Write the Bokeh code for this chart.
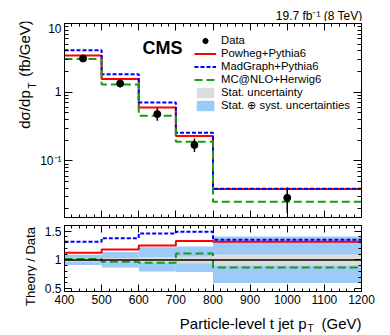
import math
from bokeh.plotting import figure
from bokeh.layouts import column, row
from bokeh.models import (Range1d, FixedTicker, SingleIntervalTicker, LinearAxis, LogAxis,
                          Legend, LegendItem, Label, Span, CustomJSTickFormatter)
from bokeh.embed import file_html
from bokeh.resources import INLINE

# ---------------- data ----------------
bin_edges = [400, 500, 600, 700, 800, 1200]
bin_centers = [450, 550, 650, 750, 1000]
data_xsec = [3.10, 1.34, 0.48, 0.171, 0.029]
powheg_xsec = [3.43, 1.56, 0.60, 0.230, 0.0389]
madgraph_xsec = [4.08, 1.83, 0.71, 0.257, 0.0393]
mcatnlo_xsec = [3.05, 1.29, 0.455, 0.190, 0.0255]
stat_rel = [0.03, 0.035, 0.05, 0.06, 0.095]
total_rel_up = [0.09, 0.14, 0.22, 0.235, 0.41]
total_rel_dn = [0.09, 0.13, 0.20, 0.21, 0.40]
powheg_ratio = [1.126, 1.18, 1.25, 1.33, 1.315]
madgraph_ratio = [1.315, 1.38, 1.46, 1.49, 1.35]
mcatnlo_ratio = [1.017, 0.97, 0.95, 1.11, 0.87]

main_major_ticks = [0.1, 1, 10]
main_minor_ticks = [0.02, 0.03, 0.04, 0.05, 0.06, 0.07, 0.08, 0.09,
                    0.2, 0.3, 0.4, 0.5, 0.6, 0.7, 0.8, 0.9,
                    2, 3, 4, 5, 6, 7, 8, 9]
main_tick_labels = {0.1: "10\u207b\u00b9", 1: "1", 10: "10"}
ratio_major_ticks = [0.5, 1, 1.5]
ratio_minor_ticks = [0.6, 0.7, 0.8, 0.9, 1.1, 1.2, 1.3, 1.4, 1.6]
ratio_tick_labels = {0.5: "0.5", 1: "1", 1.5: "1.5"}

FONT = "Liberation Sans"
RED = "#ff0000"
BLUE = "#0000ff"
GREEN = "#1a9a1a"
BAND_TOT = "#9ccbf7"
BAND_STAT = "#dddddd"

LEFT_W = 37          # width of the strip that carries the rotated y titles
PANEL_W = 390 - LEFT_W


def style_axis(ax, show_labels=True, major_in=8, minor_in=4):
    ax.major_tick_in = major_in
    ax.major_tick_out = 0
    ax.minor_tick_in = minor_in
    ax.minor_tick_out = 0
    ax.axis_line_color = "black"
    ax.major_tick_line_color = "black"
    ax.minor_tick_line_color = "black"
    ax.major_label_text_font = FONT
    ax.major_label_text_color = "black"
    if show_labels:
        ax.major_label_text_font_size = "12px"
        ax.major_label_standoff = 3
    else:
        ax.formatter = CustomJSTickFormatter(code="return ''")
        ax.major_label_text_font_size = "1px"
        ax.major_label_standoff = 0


def step_vals(v):
    return list(v) + [v[-1]]


def text_fig(w, h):
    f = figure(width=w, height=h, x_range=Range1d(0, 1), y_range=Range1d(0, 1),
               x_axis_location=None, y_axis_location=None, toolbar_location=None,
               output_backend="svg", min_border=0)
    f.xgrid.visible = False
    f.ygrid.visible = False
    f.outline_line_color = None
    f.background_fill_color = "white"
    f.border_fill_color = "white"
    return f


def txt(fig, x, y, text, size, align="left", baseline="alphabetic", angle=0.0, style="normal"):
    fig.add_layout(Label(x=x, y=y, x_units="screen", y_units="screen", text=text,
                         angle=angle, text_align=align, text_baseline=baseline,
                         text_font=FONT, text_font_size=size, text_font_style=style,
                         text_color="black"))


# ---------------- top strip ----------------
ptop = text_fig(390, 21)
txt(ptop, 362, 6, "19.7 fb\u207b\u00b9 (8 TeV)", "12px", align="right")

# ---------------- main panel ----------------
p1 = figure(width=PANEL_W, height=200, x_range=Range1d(400, 1200), y_range=Range1d(0.015, 10),
            y_axis_type="log", output_backend="svg", toolbar_location=None,
            min_border_left=62 - LEFT_W, min_border_right=29, min_border_top=2, min_border_bottom=4)
p1.grid.visible = False
p1.outline_line_color = "black"
p1.background_fill_color = "white"
p1.border_fill_color = "white"

p1.xaxis.ticker = SingleIntervalTicker(interval=100, num_minor_ticks=5)
style_axis(p1.xaxis[0], show_labels=False, major_in=7, minor_in=3)
p1.yaxis.ticker = FixedTicker(ticks=main_major_ticks, minor_ticks=main_minor_ticks)
p1.yaxis.major_label_overrides = main_tick_labels
style_axis(p1.yaxis[0], show_labels=True)

ax_r = LogAxis(ticker=FixedTicker(ticks=main_major_ticks, minor_ticks=main_minor_ticks))
style_axis(ax_r, show_labels=False)
p1.add_layout(ax_r, "right")
ax_t = LinearAxis(ticker=SingleIntervalTicker(interval=100, num_minor_ticks=5))
style_axis(ax_t, show_labels=False, major_in=7, minor_in=3)
p1.add_layout(ax_t, "above")

r_pow = p1.step(bin_edges, step_vals(powheg_xsec), mode="after", line_color=RED, line_width=2)
r_mg = p1.step(bin_edges, step_vals(madgraph_xsec), mode="after", line_color=BLUE, line_width=2,
               line_dash="4 2")
r_mc = p1.step(bin_edges, step_vals(mcatnlo_xsec), mode="after", line_color=GREEN, line_width=2,
               line_dash="8 4")

tot_lo = [d * (1 - e) for d, e in zip(data_xsec, total_rel_dn)]
tot_hi = [d * (1 + e) for d, e in zip(data_xsec, total_rel_up)]
st_lo = [d * (1 - e) for d, e in zip(data_xsec, stat_rel)]
st_hi = [d * (1 + e) for d, e in zip(data_xsec, stat_rel)]
p1.segment(x0=bin_centers, y0=tot_lo, x1=bin_centers, y1=tot_hi, line_color="black", line_width=1.5)
p1.segment(x0=bin_centers, y0=st_lo, x1=bin_centers, y1=st_hi, line_color="black", line_width=3.5)
r_data = p1.scatter(bin_centers, data_xsec, size=7, color="black")

# legend-only copies of the ratio-panel bands (hidden in this panel)
r_stat_leg = p1.quad(left=bin_edges[:-1], right=bin_edges[1:],
                     bottom=[1 - e for e in stat_rel], top=[1 + e for e in stat_rel],
                     fill_color=BAND_STAT, line_color=None, visible=False)
r_tot_leg = p1.quad(left=bin_edges[:-1], right=bin_edges[1:],
                    bottom=[1 - e for e in total_rel_dn], top=[1 + e for e in total_rel_up],
                    fill_color=BAND_TOT, line_color=None, visible=False)

legend = Legend(items=[
    LegendItem(label="Data", renderers=[r_data]),
    LegendItem(label="Powheg+Pythia6", renderers=[r_pow]),
    LegendItem(label="MadGraph+Pythia6", renderers=[r_mg]),
    LegendItem(label="MC@NLO+Herwig6", renderers=[r_mc]),
    LegendItem(label="Stat. uncertainty", renderers=[r_stat_leg]),
    LegendItem(label="Stat. \u2295 syst. uncertainties", renderers=[r_tot_leg]),
], location=(130, 105.5))
legend.border_line_color = None
legend.background_fill_alpha = 0
legend.inactive_fill_alpha = 0
legend.margin = 0
legend.padding = 0
legend.spacing = 0
legend.glyph_width = 22
legend.glyph_height = 13
legend.label_height = 13
legend.label_standoff = 5
legend.label_text_font = FONT
legend.label_text_font_size = "11.3px"
legend.label_text_color = "black"
legend.label_text_baseline = "middle"
p1.add_layout(legend)

txt(p1, 78, 170, "CMS", "18px", style="bold")

# ---------------- ratio panel ----------------
p2 = figure(width=PANEL_W, height=88, x_range=Range1d(400, 1200), y_range=Range1d(0.45, 1.6),
            output_backend="svg", toolbar_location=None,
            min_border_left=62 - LEFT_W, min_border_right=29, min_border_top=4, min_border_bottom=18)
p2.grid.visible = False
p2.outline_line_color = "black"
p2.background_fill_color = "white"
p2.border_fill_color = "white"

p2.xaxis.ticker = SingleIntervalTicker(interval=100, num_minor_ticks=5)
style_axis(p2.xaxis[0], show_labels=True, major_in=7, minor_in=3)
p2.yaxis.ticker = FixedTicker(ticks=ratio_major_ticks, minor_ticks=ratio_minor_ticks)
p2.yaxis.major_label_overrides = ratio_tick_labels
style_axis(p2.yaxis[0], show_labels=True, major_in=7, minor_in=3)

ax_r2 = LinearAxis(ticker=FixedTicker(ticks=ratio_major_ticks, minor_ticks=ratio_minor_ticks))
style_axis(ax_r2, show_labels=False, major_in=7, minor_in=3)
p2.add_layout(ax_r2, "right")
ax_t2 = LinearAxis(ticker=SingleIntervalTicker(interval=100, num_minor_ticks=5))
style_axis(ax_t2, show_labels=False, major_in=7, minor_in=3)
p2.add_layout(ax_t2, "above")

p2.quad(left=bin_edges[:-1], right=bin_edges[1:],
        bottom=[1 - e for e in total_rel_dn], top=[1 + e for e in total_rel_up],
        fill_color=BAND_TOT, line_color=None)
p2.quad(left=bin_edges[:-1], right=bin_edges[1:],
        bottom=[1 - e for e in stat_rel], top=[1 + e for e in stat_rel],
        fill_color=BAND_STAT, line_color=None)
p2.add_layout(Span(location=1, dimension="width", line_color="black", line_width=1.5))
p2.step(bin_edges, step_vals(powheg_ratio), mode="after", line_color=RED, line_width=2)
p2.step(bin_edges, step_vals(madgraph_ratio), mode="after", line_color=BLUE, line_width=2,
        line_dash="4 2")
p2.step(bin_edges, step_vals(mcatnlo_ratio), mode="after", line_color=GREEN, line_width=2,
        line_dash="8 4")

# ---------------- left strip with rotated y titles (window y -> 309 - y) ----------------
pleft = text_fig(LEFT_W, 288)
half_pi = math.pi / 2
txt(pleft, 24, 309 - 48, "(fb/GeV)", "15px", align="center", baseline="middle", angle=half_pi)
txt(pleft, 32, 309 - 85, "T", "10px", align="center", baseline="middle", angle=half_pi)
txt(pleft, 24, 309 - 109, "d\u03c3/dp", "15px", align="center", baseline="middle", angle=half_pi)
txt(pleft, 30, 309 - 266, "Theory / Data", "13px", align="center", baseline="middle", angle=half_pi)

# ---------------- x-axis title strip ----------------
pbot = text_fig(390, 26)
txt(pbot, 306, 12, "Particle-level t jet p", "15px", align="right")
txt(pbot, 307, 7, "T", "10px", align="left")
txt(pbot, 361, 12, "(GeV)", "15px", align="right")

layout = column(ptop,
                row(pleft, column(p1, p2, spacing=0), spacing=0),
                pbot, spacing=0)
open("out.html", "w").write(file_html(layout, INLINE))
